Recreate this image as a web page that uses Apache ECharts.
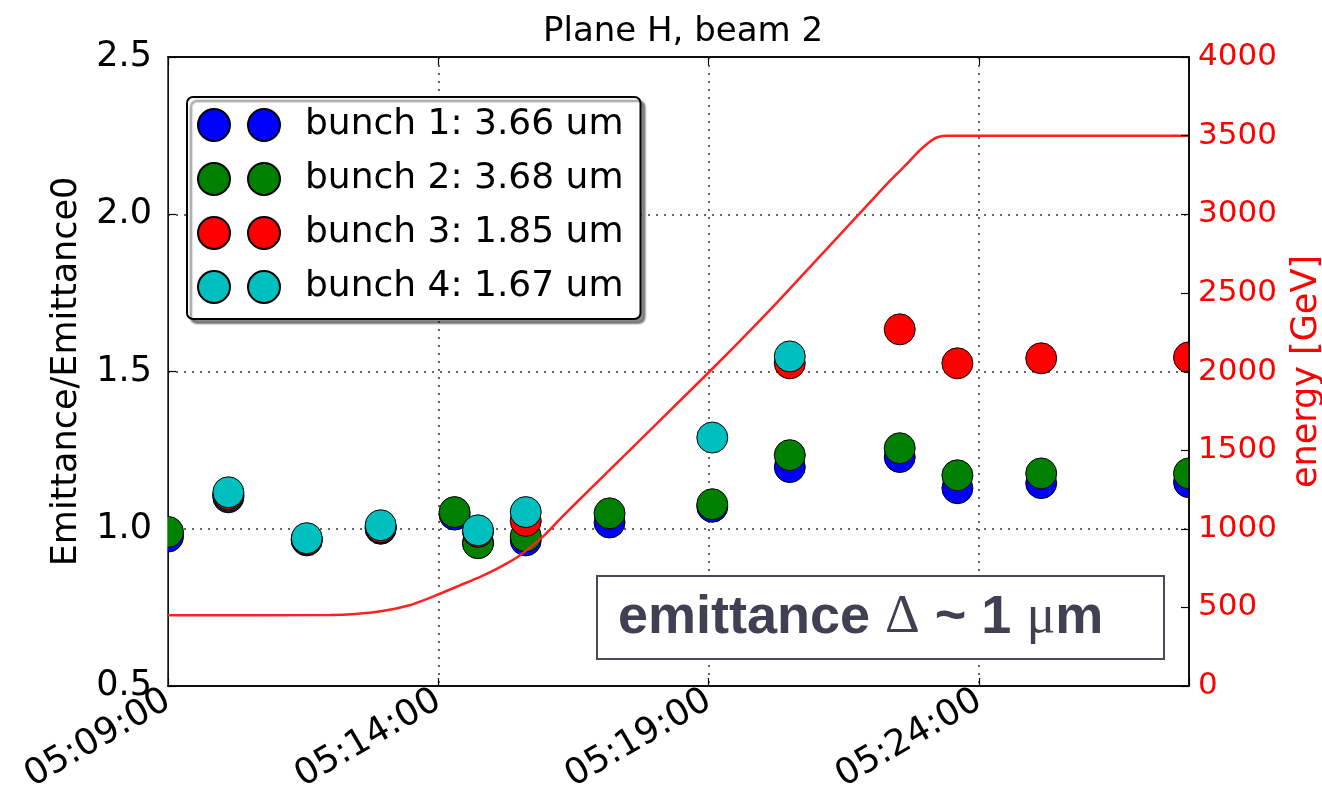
<!DOCTYPE html>
<html>
<head>
<meta charset="utf-8">
<script src="https://cdn.jsdelivr.net/npm/echarts@6/dist/echarts.min.js"></script>
<style>
  html, body { margin: 0; padding: 0; background: #fff; }
  #chart { width: 1322px; height: 801px; }
</style>
</head>
<body>
<div id="chart"></div>
<script>
// measurement times (shared by the four bunches)
const measTimes = ['05:09:00', '05:10:07', '05:11:34', '05:12:56', '05:14:18', '05:14:44', '05:15:37',
                   '05:17:10', '05:19:04', '05:20:30', '05:22:32', '05:23:36', '05:25:09', '05:27:53'];
const bunch1 = [0.975, 1.10, 0.963, 1.00, 1.045, 0.955, 0.963, 1.02, 1.07, 1.196, 1.228, 1.129, 1.145, 1.148];
const bunch2 = [0.99, 1.105, 0.965, 1.003, 1.053, 0.954, 0.976, 1.049, 1.078, 1.234, 1.256, 1.17, 1.176, 1.176];
const bunch3 = [null, 1.11, 0.966, 1.005, null, 0.99, 1.025, null, null, 1.526, 1.634, 1.526, 1.542, 1.545];
const bunch4 = [null, 1.116, 0.97, 1.011, null, 0.995, 1.053, null, 1.29, 1.548, null, null, null, null];
const bunchNames = ['bunch 1: 3.66 um', 'bunch 2: 3.68 um', 'bunch 3: 1.85 um', 'bunch 4: 1.67 um'];
const bunchColors = ['#0000ff', '#008000', '#ff0000', '#00bfbf'];

// energy ramp
const energyTimes = ['05:09:00', '05:12:00', '05:12:28', '05:12:56', '05:13:29', '05:14:01', '05:14:24', '05:14:47',
                     '05:15:09', '05:15:28', '05:15:57', '05:16:19', '05:16:49', '05:19:01', '05:20:16', '05:22:22',
                     '05:22:39', '05:22:53', '05:23:04', '05:23:13', '05:23:23', '05:27:53'];
const energyGeV = [450, 452, 458, 475, 515, 585, 640, 695, 758, 820, 955, 1085, 1255, 2000, 2440, 3218,
                   3315, 3400, 3455, 3488, 3500, 3500];

const startTime = '05:09:00';
const endTime = '05:27:53';
const tickStep = 300; // 5 minutes

const FONT = 'DejaVu Sans';

const toSec = (s) => {
    const [h, m, x] = s.split(':').map(Number);
    return h * 3600 + m * 60 + x;
};
const base = toSec(startTime);
const rel = (s) => toSec(s) - base;
const fmtTime = (v) => {
    const t = base + v;
    const pad = (n) => String(n).padStart(2, '0');
    return pad(Math.floor(t / 3600)) + ':' + pad(Math.floor((t % 3600) / 60)) + ':' + pad(t % 60);
};

const chart = echarts.init(document.getElementById('chart'));

// two circles side by side, like the matplotlib legend with numpoints=2
const twoDots = 'path://M0,16A16,16,0,1,1,32,16A16,16,0,1,1,0,16Z M50,16A16,16,0,1,1,82,16A16,16,0,1,1,50,16Z';

const bunchSeries = [bunch1, bunch2, bunch3, bunch4].map((vals, i) => ({
    name: bunchNames[i],
    type: 'scatter',
    symbol: 'circle',
    symbolSize: 31,
    itemStyle: { color: bunchColors[i], borderColor: '#000', borderWidth: 1, opacity: 1 },
    data: measTimes.map((t, j) => vals[j] == null ? null : [rel(t), vals[j]]).filter(d => d),
    z: 2
}));

const xMax = rel(endTime);

const frameLine = { onZero: false, lineStyle: { color: '#000', width: 1.5 } };
const innerTick = { inside: true, length: 8, lineStyle: { color: '#000', width: 1.2 } };
const dotted = { show: true, lineStyle: { color: '#333', width: 1.5, type: [2, 6] } };

const option = {
    animation: false,
    title: {
        text: 'Plane H, beam 2',
        left: 678, top: 10, textAlign: 'center',
        textStyle: { fontFamily: FONT, fontSize: 34, fontWeight: 'normal', color: '#000' }
    },
    legend: {
        data: bunchNames,
        orient: 'vertical',
        left: 187, top: 97,
        selectedMode: false,
        icon: twoDots,
        itemWidth: 82, itemHeight: 32,
        itemGap: 18,
        padding: [10, 17, 14, 10],
        backgroundColor: '#fff',
        borderColor: '#000', borderWidth: 2, borderRadius: 6,
        shadowColor: 'rgba(0,0,0,0.45)', shadowBlur: 2, shadowOffsetX: 4, shadowOffsetY: 4,
        textStyle: { fontFamily: FONT, fontSize: 36, color: '#000', lineHeight: 32, padding: [0, 0, 0, 20] }
    },
    grid: {
        left: 168, right: 133, top: 57, bottom: 115,
        containLabel: false, outerBoundsMode: 'none',
        show: true, borderColor: '#000', borderWidth: 1.5, backgroundColor: 'transparent'
    },
    xAxis: [
        {
            type: 'value', position: 'bottom', min: 0, max: xMax, interval: tickStep, z: 60,
            axisLine: frameLine,
            axisTick: innerTick,
            axisLabel: {
                rotate: 30, margin: 12, fontFamily: FONT, fontSize: 36, color: '#000',
                formatter: (v) => (v % tickStep === 0 ? fmtTime(v) : '')
            },
            splitLine: { show: false }
        },
        {
            // top mirror: carries the dotted vertical grid
            type: 'value', position: 'top', min: 0, max: xMax, interval: tickStep,
            axisLine: frameLine,
            axisTick: innerTick,
            axisLabel: { show: false },
            splitLine: dotted
        }
    ],
    yAxis: [
        {
            type: 'value', min: 0.5, max: 2.5, interval: 0.5,
            name: 'Emittance/Emittance0', nameLocation: 'middle', nameGap: 84,
            nameTextStyle: { fontFamily: FONT, fontSize: 35, color: '#000' },
            axisLine: frameLine,
            axisTick: innerTick,
            axisLabel: { margin: 16, fontFamily: FONT, fontSize: 35, color: '#000', formatter: (v) => v.toFixed(1) },
            splitLine: dotted
        },
        {
            type: 'value', position: 'right', min: 0, max: 4000, interval: 500, z: 60,
            name: 'energy [GeV]', nameLocation: 'middle', nameGap: 100, nameRotate: 90,
            nameTextStyle: { fontFamily: FONT, fontSize: 35, color: '#ff0000' },
            axisLine: frameLine,
            axisTick: innerTick,
            axisLabel: { margin: 9, fontFamily: FONT, fontSize: 31, color: '#ff0000', formatter: (v) => String(v) },
            splitLine: { show: false }
        }
    ],
    graphic: [
        // hide the outer halves of markers sitting on the frame edges
        { type: 'rect', shape: { x: 152, y: 57, width: 15.3, height: 629 }, style: { fill: '#fff' }, z: 50, silent: true },
        { type: 'rect', shape: { x: 1190, y: 57, width: 18, height: 629 }, style: { fill: '#fff' }, z: 50, silent: true },
        {
            type: 'rect', shape: { x: 597, y: 576, width: 567, height: 83 },
            style: { fill: '#fff', stroke: '#474a5a', lineWidth: 2 }, z: 50, silent: true
        },
        {
            type: 'text', x: 618, y: 618, z: 51, silent: true,
            style: {
                text: '{a|emittance }{b|\u0394}{a| ~ 1 }{b|\u03bc}{a|m}',
                verticalAlign: 'middle',
                rich: {
                    a: { fontFamily: 'Liberation Sans', fontWeight: 'bold', fontSize: 54, fill: '#3f4152' },
                    b: { fontFamily: 'Liberation Serif', fontWeight: 'normal', fontSize: 54, fill: '#3f4152' }
                }
            }
        }
    ],
    series: [
        ...bunchSeries,
        {
            name: 'energy',
            type: 'line',
            yAxisIndex: 1,
            symbol: 'none',
            smooth: 0.2,
            lineStyle: { color: '#ff2020', width: 2.5 },
            data: energyTimes.map((t, i) => [rel(t), energyGeV[i]]),
            z: 3
        }
    ]
};

chart.setOption(option);
</script>
</body>
</html>
